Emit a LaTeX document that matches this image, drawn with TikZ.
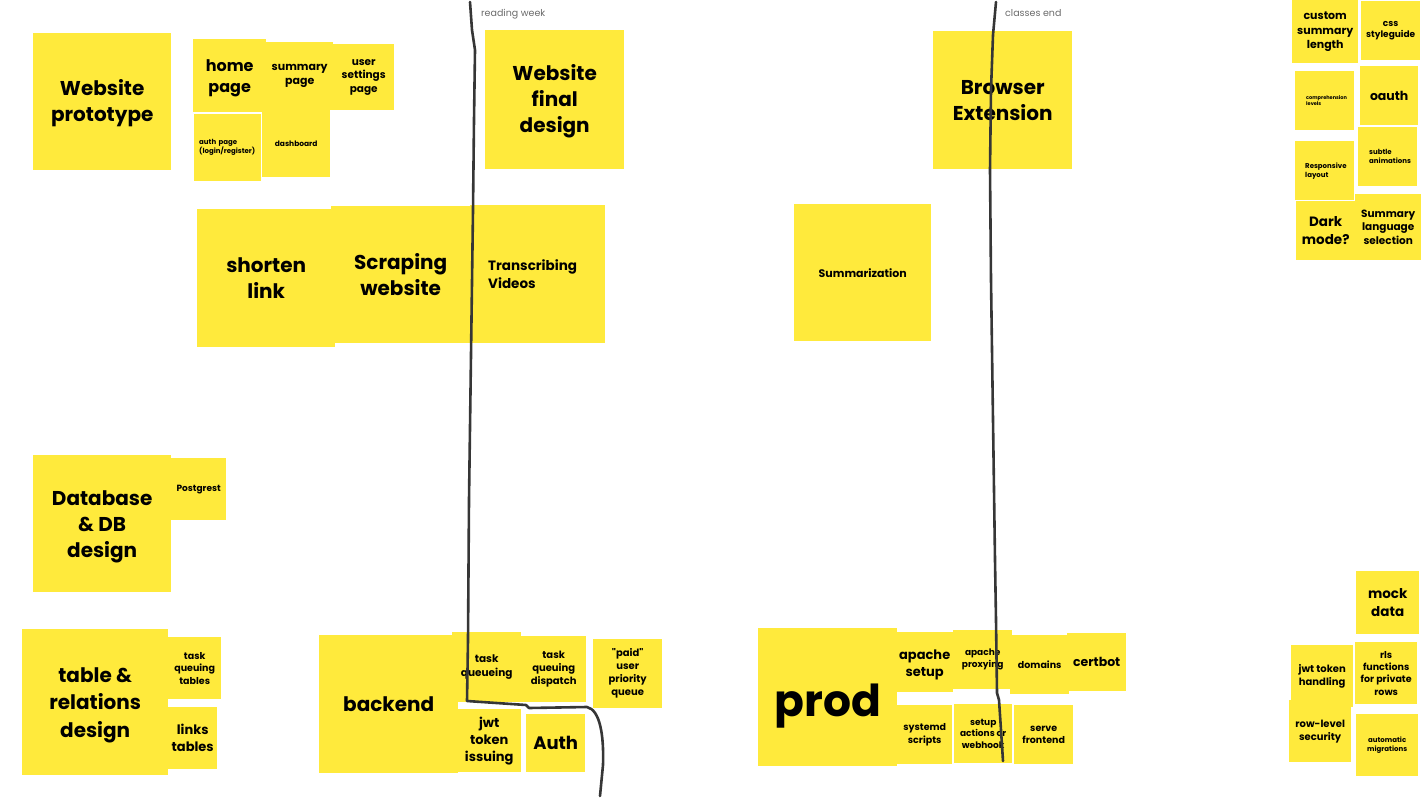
\documentclass[tikz,border=0pt]{standalone}
\usepackage{fontspec}
\setmainfont{Poppins}
\definecolor{notey}{HTML}{FFEA3C}
\definecolor{penc}{HTML}{363636}
\definecolor{tagc}{HTML}{6A6A6A}
\newcommand\dropby[1]{\rule{0pt}{#1}}
\tikzset{note/.style={fill=notey, anchor=north west, align=center, inner sep=2pt},
  sz/.style n args={2}{minimum width=#1, minimum height=#2},
  fs/.style={font=\fontsize{#1}{\fpeval{1.3*#1}}\selectfont\bfseries},
  lft/.style n args={2}{align=left, inner xsep=#1, text width=#2},
  pen/.style={draw=penc, line width=2.6pt, line join=round, line cap=round},
  tag/.style={text=tagc, anchor=west, inner sep=0pt, font=\fontsize{9.5}{11}\selectfont}}

\begin{document}
\begin{tikzpicture}[x=1pt, y=-1pt]
\useasboundingbox (0,0) rectangle (1422,800);

% website
\node[note, sz={138}{137}, fs=20] (proto) at (33,33) {\dropby{18.8pt}Website\\prototype};
\node[note, sz={73}{73}, fs=16] (home) at (193,39) {\dropby{17.8pt}home\\page};
\node[note, sz={67}{68}, fs=11] (summpage) at (266,42) {summary\\page};
\node[note, sz={61}{66}, fs=10.5] (usersettings) at (333,44) {user\\settings\\page};
\node[note, sz={67}{67}, fs=7, lft={5pt}{57pt}] (authpage) at (194,114) {auth page\\(login/register)};
\node[note, sz={68}{67}, fs=7.5] (dashboard) at (262,110) {dashboard};
\node[note, sz={139}{139}, fs=20] (finaldesign) at (485,30) {\dropby{18.8pt}Website\\final\\design};
\node[note, sz={139}{138}, fs=20] (browserext) at (933,31) {Browser\\Extension};

% features
\node[note, sz={138}{138}, fs=20] (shorten) at (197,209) {shorten\\link};
\node[note, sz={139}{137}, fs=20] (scraping) at (331,206) {Scraping\\website};
\node[note, sz={135}{138}, fs=13.5, lft={18pt}{99pt}] (transcribe) at (470,205) {Transcribing\\Videos};
\node[note, sz={137}{137}, fs=11] (summarization) at (794,204) {Summarization};

% extras
\node[note, sz={66}{63}, fs=11] (customlen) at (1292,0) {custom\\summary\\length};
\node[note, sz={59}{59}, fs=9] (css) at (1361,1) {css\\styleguide};
\node[note, sz={59}{59}, fs=5, lft={11pt}{37pt}] (comprehension) at (1295,71) {comprehension\\levels};
\node[note, sz={58}{59}, fs=12.5] (oauth) at (1360,66) {oauth};
\node[note, sz={59}{59}, fs=7, lft={10pt}{39pt}] (responsive) at (1295,141) {Responsive\\layout};
\node[note, sz={59}{59}, fs=7, lft={11pt}{37pt}] (animations) at (1358,127) {subtle\\animations};
\node[note, sz={59}{59}, fs=13.5] (darkmode) at (1296,201) {Dark\\mode?};
\node[note, sz={66}{66}, fs=10.5] (summlang) at (1355,194) {Summary\\language\\selection};

% database
\node[note, sz={138}{137}, fs=20] (database) at (33,455) {\dropby{20.8pt}Database\\\& DB\\design};
\node[note, sz={55}{62}, fs=9] (postgrest) at (171,458) {Postgrest};
\node[note, sz={146}{146}, font=\fontsize{20}{27.5}\selectfont\bfseries] (tables) at (22,629) {\dropby{20.8pt}table \&\\relations\\design};
\node[note, sz={53}{62}, fs=9.5] (taskqtables) at (168,637) {task\\queuing\\tables};
\node[note, sz={49}{62}, fs=13] (linkstables) at (168,707) {links\\tables};

% backend
\node[note, sz={139}{138}, fs=20] (backend) at (319,635) {backend};
\node[note, sz={69}{70}, fs=10.5] (taskq) at (452,632) {task\\queueing};
\node[note, sz={65}{66}, fs=10] (taskdispatch) at (521,636) {task\\queuing\\dispatch};
\node[note, sz={69}{69}, fs=10] (paidqueue) at (593,639) {\textquotedbl paid\textquotedbl\\user\\priority\\queue};
\node[note, sz={64}{63}, fs=13] (jwtissue) at (457,709) {jwt\\token\\issuing};
\node[note, sz={59}{58}, fs=18] (auth) at (526,714) {Auth};

% prod
\node[note, sz={139}{138}, fs=44, text height=38pt, text depth=0pt] (prod) at (758,628) {prod};
\node[note, sz={57}{60}, fs=13] (apachesetup) at (896,632) {\dropby{14.6pt}apache\\setup};
\node[note, sz={59}{59}, fs=9] (apacheproxy) at (953,630) {apache\\proxying};
\node[note, sz={59}{59}, fs=9.5] (domains) at (1010,635) {domains};
\node[note, sz={59}{58}, fs=12.5] (certbot) at (1067,633) {certbot};
\node[note, sz={55}{59}, fs=9.5] (systemd) at (897,705) {systemd\\scripts};
\node[note, sz={58}{59}, fs=9] (actions) at (954,704) {setup\\actions or\\webhook};
\node[note, sz={59}{59}, fs=9.5] (servefront) at (1014,705) {serve\\frontend};

% security
\node[note, sz={63}{63}, fs=13.5] (mockdata) at (1356,571) {mock\\data};
\node[note, sz={62}{62}, fs=10] (jwthandle) at (1291,645) {jwt token\\handling};
\node[note, sz={62}{62}, fs=9.5] (rls) at (1355,642) {rls\\functions\\for private\\rows};
\node[note, sz={62}{62}, fs=10] (rowlevel) at (1289,700) {row-level\\security};
\node[note, sz={62}{62}, fs=7] (migrations) at (1356,714) {automatic\\migrations};

% milestones
\node[tag] (readingweek) at (481,14) {reading week};
\node[tag] (classesend) at (1005,13) {classes end};
\path[pen] (470,2) -- (472,30) -- (475,50) -- (474,120) -- (473,210) -- (471,355)
  -- (469,500) -- (468,640) -- (467,701) -- (526,705) -- (529,708) -- (587,707)
  .. controls (600,710) and (604,735) .. (603,765) -- (600,796);
\path[pen] (996,2) -- (993,35) -- (991,90) -- (990,170) -- (991,280) -- (993,420)
  -- (995,560) -- (996,620) -- (997,693) -- (999,700) -- (1001,730) -- (1003,761);
\end{tikzpicture}
\end{document}
